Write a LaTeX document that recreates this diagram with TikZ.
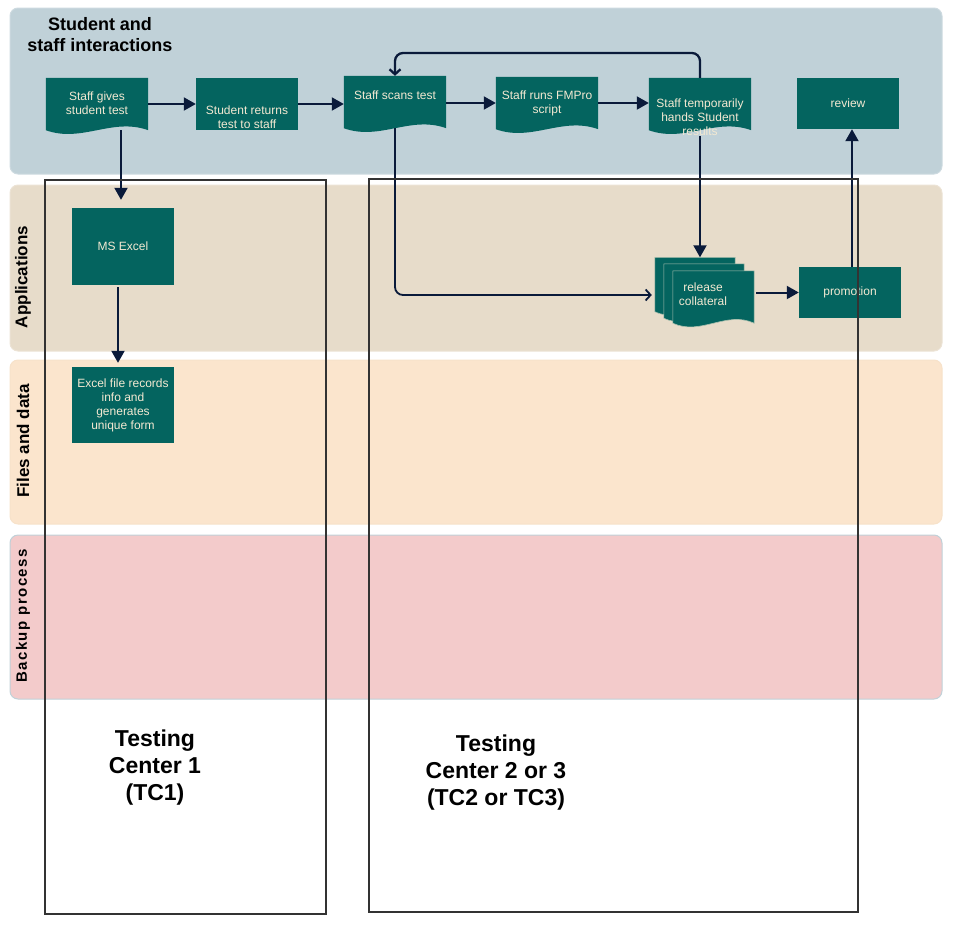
\documentclass[tikz,border=0pt]{standalone}
\usepackage{fontspec}
\setmainfont{Liberation Sans}
\usetikzlibrary{arrows.meta,calc}
\definecolor{laneA}{HTML}{C0D1D8}
\definecolor{laneB}{HTML}{E7DCCA}
\definecolor{laneC}{HTML}{FBE5CD}
\definecolor{laneD}{HTML}{F3CBCB}
\definecolor{tealbox}{HTML}{04645F}
\definecolor{cream}{HTML}{F3E9D2}
\definecolor{navy}{HTML}{0A1A3A}
\definecolor{framegray}{HTML}{333333}
\newcommand\docpath[2]{(#1.north west) -- (#1.north east) -- (#1.south east) .. controls ($(#1.south east)+(-#2,-13)$) and ($(#1.south west)+(#2,13)$) .. (#1.south west) -- cycle}
\begin{document}
\begin{tikzpicture}[x=1pt,y=-1pt,
  lane/.style={rounded corners=8pt, line width=1pt},
  lanelabel/.style={rotate=90, font=\bfseries\fontsize{17}{20}\selectfont, inner sep=0pt},
  boxst/.style={fill=tealbox, minimum width=102pt, inner sep=0pt},
  docnode/.style={minimum width=102pt, minimum height=52pt, inner sep=0pt},
  reldoc/.style={minimum width=80pt, minimum height=54pt, inner sep=0pt},
  ntext/.style={text=cream, font=\fontsize{12}{14}\selectfont, align=center, inner sep=0pt},
  conn/.style={draw=navy, line width=2pt, -{Triangle[length=12pt,width=13pt]}},
  openconn/.style={draw=navy, line width=2pt, rounded corners=8pt, -{Straight Barb[length=5pt,width=11pt]}},
  tctext/.style={font=\bfseries\fontsize{23}{27}\selectfont, align=center, inner sep=0pt},
  frame/.style={draw=framegray, line width=1.6pt}]
\useasboundingbox (0,0) rectangle (961,935);

% lanes
\draw[lane, fill=laneA, draw=laneA!80!white] (10,8) rectangle (942,174);
\draw[lane, fill=laneB, draw=laneB!80!white] (10,185) rectangle (942,351);
\draw[lane, fill=laneC, draw=laneC!85!black!10!laneC] (10,360) rectangle (942,524);
\draw[lane, fill=laneD, draw=laneA] (10,535) rectangle (942,699);

\node[font=\bfseries\fontsize{18}{21}\selectfont, align=center, inner sep=0pt] (title) at (100,35) {Student and\\staff interactions};
\node[lanelabel] (lApp) at (23,277) {Applications};
\node[lanelabel] (lFiles) at (23,441) {Files and data};
\node[lanelabel, font=\bfseries\fontsize{15}{18}\selectfont\addfontfeature{LetterSpace=10}] (lBack) at (23,616) {Backup process};

% top lane nodes
\node[docnode] (n1) at (97,104) {};
\fill[tealbox] \docpath{n1}{36};
\node[ntext] (n1t) at (97,103.5) {Staff gives\\student test};

\node[boxst, minimum height=52pt] (n2) at (247,104) {};
\node[ntext] (n2t) at (247,117) {Student returns\\test to staff};

\node[docnode] (n3) at (395,102) {};
\fill[tealbox] \docpath{n3}{36};
\node[ntext] (n3t) at (395,95) {Staff scans test};

\node[docnode] (n4) at (547,103) {};
\fill[tealbox] \docpath{n4}{36};
\node[ntext] (n4t) at (547,103.5) {Staff runs FMPro\\script};

\node[docnode] (n5) at (700,104) {};
\fill[tealbox] \docpath{n5}{36};
\node[ntext] (n5t) at (700,117.5) {Staff temporarily\\hands Student\\results};

\node[boxst, minimum height=51pt] (review) at (848,103.5) {};
\node[ntext] (reviewt) at (848,103) {review};

% applications lane
\node[boxst, minimum height=77pt] (excel) at (123,246.5) {};
\node[ntext] (excelt) at (123,246) {MS Excel};

\node[reldoc] (rel1) at (695,284.5) {};
\filldraw[fill=tealbox, draw=cream!70!tealbox, line width=0.6pt] \docpath{rel1}{28};
\node[reldoc] (rel2) at (704,291) {};
\filldraw[fill=tealbox, draw=cream!70!tealbox, line width=0.6pt] \docpath{rel2}{28};
\node[reldoc, minimum width=81pt, minimum height=52pt] (rel3) at (713.5,297) {};
\filldraw[fill=tealbox, draw=cream!70!tealbox, line width=0.6pt] \docpath{rel3}{28};
\node[ntext] (relt) at (703,294) {release\\collateral};

\node[boxst, minimum height=51pt] (promo) at (850,292.5) {};
\node[ntext] (promot) at (850,292) {promotion};

% files lane
\node[boxst, minimum height=76pt] (file) at (123,405) {};
\node[ntext] (filet) at (123,405) {Excel file records\\info and\\generates\\unique form};

% connectors
\coordinate (loopy) at (0,53);
\coordinate (rely) at (0,295);
\draw[conn] (n1.east) -- (n2.west);
\draw[conn] (n2.east) -- (n3.west |- n2.east);
\draw[conn] (n3.east |- n4.east) -- (n4.west);
\draw[conn] (n4.east) -- (n5.west |- n4.east);
\draw[conn, shorten >=8pt] ([xshift=-2pt]excel.north |- n1.south) -- ([xshift=-2pt]excel.north);
\draw[conn, shorten >=4pt, shorten <=2pt] ([xshift=-5pt]excel.south) -- ([xshift=-5pt]file.north);
\draw[openconn, line width=2.3pt] (n5.north) -- (n5.north |- loopy) -- (n3.north |- loopy) -- (n3.north);
\draw[openconn, line width=1.8pt] (n3.south) -- (n3.south |- rely) -- ([xshift=-3pt]rel1.west |- rely);
\draw[conn] ([yshift=-6pt]n5.south) -- (n5.south |- rel1.north);
\draw[conn, shorten <=2pt] (rel3.east |- promo.west) -- (promo.west);
\draw[conn] ([xshift=2pt]promo.north) -- ([xshift=2pt]promo.north |- review.south);

% testing center frames
\draw[frame] (45,180) rectangle (326,914);
\draw[frame] (369,179) rectangle (858,912);
\node[tctext] (tc1) at (155,768) {Testing\\Center 1\\(TC1)};
\node[tctext] (tc2) at (496,773) {Testing\\Center 2 or 3\\(TC2 or TC3)};
\end{tikzpicture}
\end{document}
